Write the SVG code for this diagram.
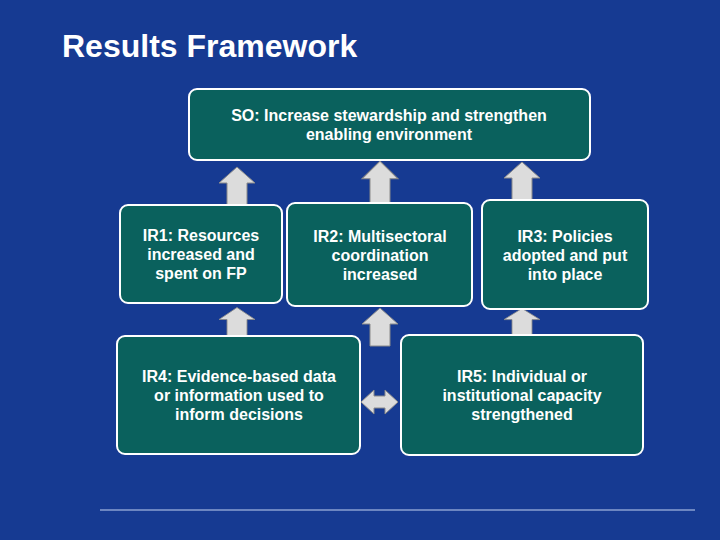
<svg xmlns="http://www.w3.org/2000/svg" width="720" height="540" viewBox="0 0 720 540">
<style>
.box{fill:#0a615d;stroke:#ffffff;stroke-width:2}
.t{fill:#fff;font-family:"Liberation Sans",Arial,sans-serif;font-weight:bold;font-size:16px;text-anchor:middle}
.ar{fill:#dcdcdc;stroke:#8a8a8a;stroke-width:1}
</style>
<defs>
<path id="up" d="M-10,0 V-22 H-18 L0,-38 L18,-22 H10 V0 Z"/>
</defs>
<rect width="720" height="540" fill="#163a92"/>
<text x="62" y="57" style="fill:#fff;font-family:'Liberation Sans',Arial,sans-serif;font-weight:bold;font-size:32px">Results Framework</text>
<line x1="100" y1="510" x2="695" y2="510" stroke="#8aa0d0" stroke-width="1.5"/>
<g id="connectors">
<use href="#up" class="ar" transform="translate(237,205)"/>
<use href="#up" class="ar" transform="translate(380,203) scale(1,1.1)"/>
<use href="#up" class="ar" transform="translate(522,200)"/>
<use href="#up" class="ar" transform="translate(237,336) scale(1,0.75)"/>
<use href="#up" class="ar" transform="translate(380,346)"/>
<use href="#up" class="ar" transform="translate(522,335) scale(1,0.7)"/>
<path class="ar" d="M361,402 L374,390 V396 H385 V390 L398,402 L385,414 V408 H374 V414 Z"/>
</g>
<g id="so"><rect class="box" x="189" y="89" width="401" height="71" rx="8"/>
<text class="t" x="389" y="121">SO: Increase stewardship and strengthen</text><text class="t" x="389" y="140">enabling environment</text></g>
<g id="ir1"><rect class="box" x="120" y="205" width="162" height="98" rx="8"/>
<text class="t" x="201" y="241">IR1: Resources</text><text class="t" x="201" y="260">increased and</text><text class="t" x="201" y="279">spent on FP</text></g>
<g id="ir2"><rect class="box" x="287" y="203" width="185" height="103" rx="8"/>
<text class="t" x="380" y="242">IR2: Multisectoral</text><text class="t" x="380" y="261">coordination</text><text class="t" x="380" y="280">increased</text></g>
<g id="ir3"><rect class="box" x="482" y="200" width="166" height="109" rx="8"/>
<text class="t" x="565" y="242">IR3: Policies</text><text class="t" x="565" y="261">adopted and put</text><text class="t" x="565" y="280">into place</text></g>
<g id="ir4"><rect class="box" x="117" y="336" width="243" height="118" rx="8"/>
<text class="t" x="239" y="382">IR4: Evidence-based data</text><text class="t" x="239" y="401">or information used to</text><text class="t" x="239" y="420">inform decisions</text></g>
<g id="ir5"><rect class="box" x="401" y="335" width="242" height="120" rx="8"/>
<text class="t" x="522" y="382">IR5: Individual or</text><text class="t" x="522" y="401">institutional capacity</text><text class="t" x="522" y="420">strengthened</text></g>
</svg>
